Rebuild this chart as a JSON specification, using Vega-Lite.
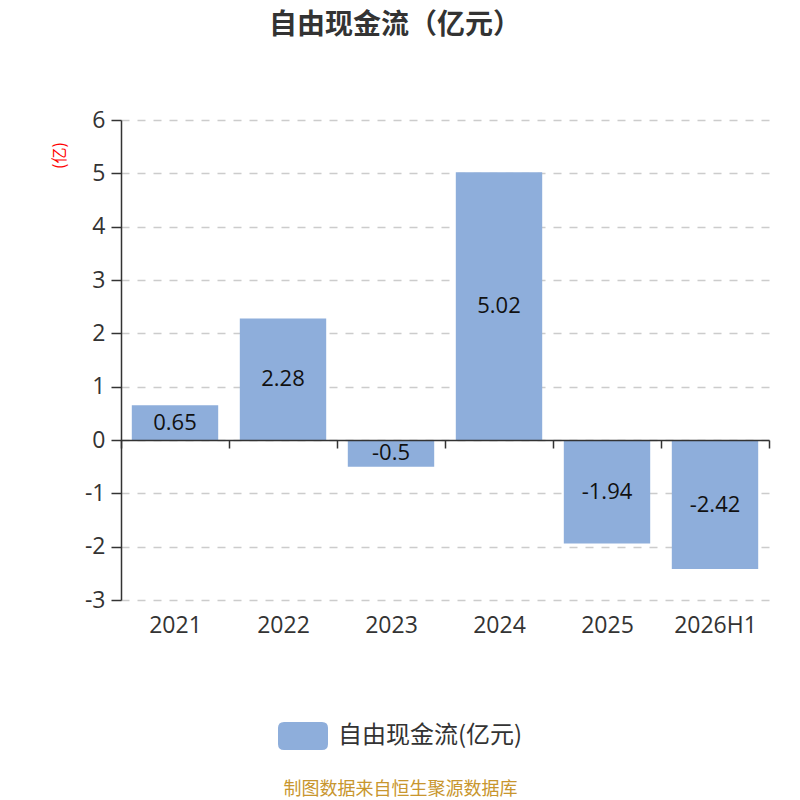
{
  "$schema": "https://vega.github.io/schema/vega-lite/v6.json",
  "width": 648,
  "height": 480,
  "autosize": "none",
  "padding": {"left": 121, "top": 120, "right": 31, "bottom": 200},
  "background": "white",
  "title": {
    "text": "自由现金流（亿元）",
    "fontSize": 28,
    "fontWeight": "bold",
    "color": "#333333",
    "anchor": "middle",
    "dx": -50,
    "offset": 69
  },
  "data": {
    "values": [
      {"year": "2021", "v": 0.65},
      {"year": "2022", "v": 2.28},
      {"year": "2023", "v": -0.5},
      {"year": "2024", "v": 5.02},
      {"year": "2025", "v": -1.94},
      {"year": "2026H1", "v": -2.42}
    ]
  },
  "transform": [{"calculate": "datum.v / 2", "as": "mid"}],
  "encoding": {
    "x": {
      "field": "year",
      "type": "ordinal",
      "sort": null,
      "scale": {"paddingInner": 0, "paddingOuter": 0},
      "axis": {
        "title": "制图数据来自恒生聚源数据库",
        "titleColor": "#C8962E",
        "titleFontSize": 18,
        "titleFontWeight": "normal",
        "titleX": 279,
        "titleY": 349,
        "titleBaseline": "middle",
        "offset": -160,
        "domainColor": "#333333",
        "domainWidth": 1.5,
        "tickColor": "#333333",
        "tickSize": 8,
        "tickWidth": 1.5,
        "tickBand": "extent",
        "labelAngle": 0,
        "labelFont": "Open Sans",
        "labelFontSize": 23,
        "labelColor": "#333333",
        "labelPadding": 166,
        "grid": false,
        "zindex": 1
      }
    }
  },
  "layer": [
    {
      "mark": {"type": "bar", "width": {"band": 0.8}},
      "encoding": {
        "y": {
          "field": "v",
          "type": "quantitative",
          "scale": {"domain": [-3, 6], "nice": false, "zero": false},
          "axis": {
            "title": "(亿)",
            "titleColor": "red",
            "titleFontSize": 16,
            "titleFontWeight": "normal",
            "titleX": -62,
            "titleY": 35,
            "titleAlign": "center",
            "titleBaseline": "middle",
            "values": [-3, -2, -1, 0, 1, 2, 3, 4, 5, 6],
            "labelExpr": "datum.value + ''",
            "labelFont": "Open Sans",
            "labelFontSize": 23,
            "labelColor": "#333333",
            "labelPadding": 6,
            "domainColor": "#333333",
            "domainWidth": 1.5,
            "tickColor": "#333333",
            "tickSize": 10,
            "tickWidth": 1.5,
            "gridColor": "#cccccc",
            "gridDash": [8, 8],
            "gridWidth": 1.5
          }
        },
        "color": {
          "datum": "自由现金流(亿元)",
          "scale": {"range": ["#8EAEDB"]},
          "legend": {
            "orient": "none",
            "legendX": 157,
            "legendY": 591,
            "title": null,
            "padding": 0,
            "labelFontSize": 24,
            "labelColor": "#333333",
            "labelOffset": 10,
            "labelLimit": 400,
            "symbolType": "M-0.76,-0.56L0.76,-0.56Q1,-0.56 1,-0.32L1,0.32Q1,0.56 0.76,0.56L-0.76,0.56Q-1,0.56 -1,0.32L-1,-0.32Q-1,-0.56 -0.76,-0.56Z",
            "symbolSize": 2500,
            "symbolStrokeWidth": 0,
            "symbolOpacity": 1
          }
        }
      }
    },
    {
      "mark": {"type": "text", "font": "Open Sans", "fontSize": 22, "color": "#111111", "baseline": "middle"},
      "encoding": {
        "y": {
          "field": "mid",
          "type": "quantitative",
          "axis": {
            "title": "(亿)",
            "titleColor": "red",
            "titleFontSize": 16,
            "titleFontWeight": "normal",
            "titleX": -62,
            "titleY": 35,
            "titleAlign": "center",
            "titleBaseline": "middle",
            "values": [-3, -2, -1, 0, 1, 2, 3, 4, 5, 6],
            "labelExpr": "datum.value + ''",
            "labelFont": "Open Sans",
            "labelFontSize": 23,
            "labelColor": "#333333",
            "labelPadding": 6,
            "domainColor": "#333333",
            "domainWidth": 1.5,
            "tickColor": "#333333",
            "tickSize": 10,
            "tickWidth": 1.5,
            "gridColor": "#cccccc",
            "gridDash": [8, 8],
            "gridWidth": 1.5
          }
        },
        "text": {"field": "v", "type": "nominal"}
      }
    }
  ],
  "config": {
    "font": "Noto Sans CJK SC",
    "view": {"stroke": null}
  }
}
